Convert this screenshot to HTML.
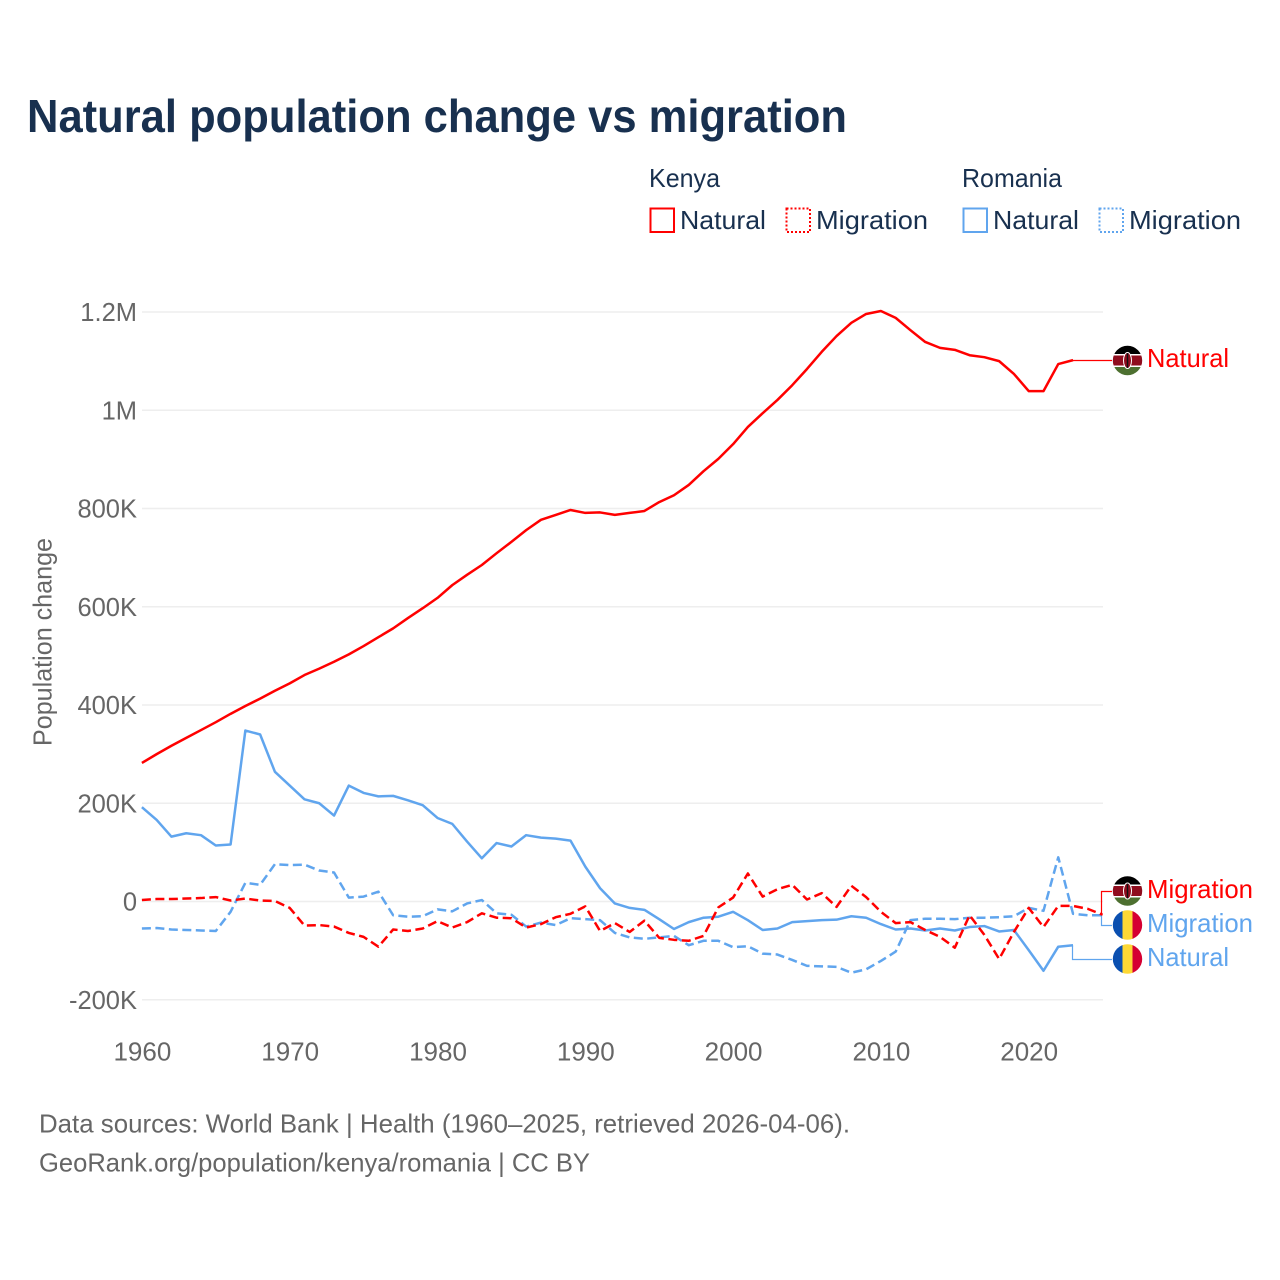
<!DOCTYPE html>
<html lang="en">
<head>
<meta charset="utf-8">
<title>Natural population change vs migration</title>
<style>
html,body{margin:0;padding:0;background:#fff;width:1280px;height:1280px;overflow:hidden}
svg{display:block}
text{font-family:"Liberation Sans",sans-serif}
</style>
</head>
<body>
<svg id="chart" xmlns="http://www.w3.org/2000/svg" width="1280" height="1280" viewBox="0 0 1280 1280">
<defs>
<clipPath id="flag-clip-kenya-natural"><circle cx="1127.5" cy="360.5" r="14.7"/></clipPath>
<clipPath id="flag-clip-kenya-migration"><circle cx="1127.5" cy="891" r="14.7"/></clipPath>
<clipPath id="flag-clip-romania-migration"><circle cx="1127.5" cy="925" r="14.7"/></clipPath>
<clipPath id="flag-clip-romania-natural"><circle cx="1127.5" cy="959" r="14.7"/></clipPath>
</defs>
<rect width="1280" height="1280" fill="#fff"/>
<text x="27" y="132" font-size="46" font-weight="700" fill="#18304f" textLength="820" lengthAdjust="spacingAndGlyphs">Natural population change vs migration</text>

<g font-size="26" fill="#18304f">
<text x="649" y="187" textLength="71" lengthAdjust="spacingAndGlyphs">Kenya</text>
<rect x="650.5" y="208.5" width="23.5" height="23.5" fill="none" stroke="#ff0000" stroke-width="2"/>
<text x="680" y="229" textLength="86" lengthAdjust="spacingAndGlyphs">Natural</text>
<rect x="786.5" y="208.5" width="23.5" height="23.5" fill="none" stroke="#ff0000" stroke-width="2" stroke-dasharray="2 2"/>
<text x="816" y="229" textLength="112" lengthAdjust="spacingAndGlyphs">Migration</text>
<text x="962" y="187" textLength="100" lengthAdjust="spacingAndGlyphs">Romania</text>
<rect x="963.5" y="208.5" width="23.5" height="23.5" fill="none" stroke="#60a5ee" stroke-width="2"/>
<text x="993" y="229" textLength="86" lengthAdjust="spacingAndGlyphs">Natural</text>
<rect x="1099.5" y="208.5" width="23.5" height="23.5" fill="none" stroke="#60a5ee" stroke-width="2" stroke-dasharray="2 2"/>
<text x="1129" y="229" textLength="112" lengthAdjust="spacingAndGlyphs">Migration</text>
</g>

<g id="grid"></g>
<g id="yticks" font-size="25.5" fill="#666" text-anchor="end"></g>
<g id="xticks" font-size="26" fill="#666" text-anchor="middle"></g>
<text transform="translate(51.5,642) rotate(-90)" font-size="26" fill="#666" text-anchor="middle" textLength="208" lengthAdjust="spacingAndGlyphs">Population change</text>

<g id="connectors"></g>
<g id="series"></g>

<g clip-path="url(#flag-clip-kenya-natural)">
<rect x="1112" y="345" width="31" height="31" fill="#fff"/><rect x="1112" y="345" width="31" height="9" fill="#000"/><rect x="1112" y="355.5" width="31" height="10" fill="#8f0d1e"/><rect x="1112" y="367" width="31" height="10" fill="#4d7030"/>
<ellipse cx="1127.5" cy="360.5" rx="4" ry="8" fill="#8f0d1e" stroke="#fff" stroke-width="1"/><rect x="1126.8" y="353" width="1.4" height="15" fill="#111"/>
</g>
<g clip-path="url(#flag-clip-kenya-migration)">
<rect x="1112" y="875.5" width="31" height="31" fill="#fff"/><rect x="1112" y="875.5" width="31" height="9" fill="#000"/><rect x="1112" y="886" width="31" height="10" fill="#8f0d1e"/><rect x="1112" y="897.5" width="31" height="10" fill="#4d7030"/>
<ellipse cx="1127.5" cy="891" rx="4" ry="8" fill="#8f0d1e" stroke="#fff" stroke-width="1"/><rect x="1126.8" y="883.5" width="1.4" height="15" fill="#111"/>
</g>
<g clip-path="url(#flag-clip-romania-migration)">
<rect x="1112" y="909" width="11" height="32" fill="#0a4fb0"/><rect x="1122.5" y="909" width="10.5" height="32" fill="#fdd835"/><rect x="1132.5" y="909" width="11" height="32" fill="#d50032"/>
</g>
<g clip-path="url(#flag-clip-romania-natural)">
<rect x="1112" y="943" width="11" height="32" fill="#0a4fb0"/><rect x="1122.5" y="943" width="10.5" height="32" fill="#fdd835"/><rect x="1132.5" y="943" width="11" height="32" fill="#d50032"/>
</g>

<text x="1147" y="367" font-size="26" fill="#ff0000" textLength="82" lengthAdjust="spacingAndGlyphs">Natural</text>
<text x="1147" y="898" font-size="26" fill="#ff0000" textLength="106" lengthAdjust="spacingAndGlyphs">Migration</text>
<text x="1147" y="932" font-size="26" fill="#60a5ee" textLength="106" lengthAdjust="spacingAndGlyphs">Migration</text>
<text x="1147" y="966" font-size="26" fill="#60a5ee" textLength="82" lengthAdjust="spacingAndGlyphs">Natural</text>

<text x="39" y="1132.5" font-size="26" fill="#666" textLength="811" lengthAdjust="spacingAndGlyphs">Data sources: World Bank | Health (1960–2025, retrieved 2026-04-06).</text>
<text x="39" y="1171.5" font-size="26" fill="#666" textLength="551" lengthAdjust="spacingAndGlyphs">GeoRank.org/population/kenya/romania | CC BY</text>
</svg>
<script>
const years = [1960,1961,1962,1963,1964,1965,1966,1967,1968,1969,1970,1971,1972,1973,1974,1975,1976,1977,1978,1979,1980,1981,1982,1983,1984,1985,1986,1987,1988,1989,1990,1991,1992,1993,1994,1995,1996,1997,1998,1999,2000,2001,2002,2003,2004,2005,2006,2007,2008,2009,2010,2011,2012,2013,2014,2015,2016,2017,2018,2019,2020,2021,2022,2023,2024,2025];
const kenyaNatural = [282,300,317,333,349,365,382,398,413,429,444,461,474,488,503,520,538,556,577,597,618,644,665,685,709,732,756,777,787,797,791,792,787,791,795,813,827,848,876,901,931,966,994,1021,1051,1084,1119,1151,1178,1196,1202,1188,1163,1139,1127,1123,1112,1108,1100,1074,1039,1039,1094,1102];
const romaniaNatural = [192,166,132,139,135,114,116,348,340,264,236,208,200,175,236,221,214,215,206,196,170,158,122,88,119,112,135,130,128,124,71,27,-4,-13,-17,-36,-56,-42,-33,-31,-21,-38,-58,-55,-42,-40,-38,-37,-30,-33,-46,-57,-55,-59,-55,-59,-52,-50,-61,-58,-99,-141,-92,-89];
const kenyaMigration = [3,5,5,6,7,9,2,6,2,1,-13,-49,-48,-51,-64,-72,-92,-57,-60,-55,-40,-53,-42,-24,-33,-34,-53,-46,-32,-25,-10,-60,-44,-62,-39,-74,-78,-80,-70,-12,8,57,10,25,34,4,17,-11,32,9,-21,-44,-42,-58,-72,-94,-28,-68,-117,-62,-13,-52,-9,-9,-15,-27];
const romaniaMigration = [-55,-54,-57,-58,-59,-60,-21,38,34,76,74,75,63,59,8,10,20,-28,-31,-30,-16,-20,-4,3,-24,-27,-51,-43,-48,-34,-36,-38,-64,-73,-76,-73,-70,-89,-80,-80,-93,-91,-106,-108,-119,-131,-132,-133,-145,-138,-121,-102,-38,-35,-35,-36,-33,-33,-32,-30,-13,-19,90,-25,-28,-28];
const yTickValues = [-200,0,200,400,600,800,1000,1200];
const yTickLabels = ["-200K","0","200K","400K","600K","800K","1M","1.2M"];
const xTickYears = [1960,1970,1980,1990,2000,2010,2020];

const NS = 'http://www.w3.org/2000/svg';
const RED = '#ff0000';
const BLUE = '#60a5ee';
function xScale(year) { return 141.9 + (year - 1960) * 14.78; }
function yScale(k) { return 901.5 - k * 0.49125; }
function make(tag, attrs) {
  const el = document.createElementNS(NS, tag);
  for (const key in attrs) el.setAttribute(key, attrs[key]);
  return el;
}

const gridGroup = document.getElementById('grid');
const yGroup = document.getElementById('yticks');
yTickValues.forEach(function (value, i) {
  const line = make('line', { x1: 142, x2: 1103, y1: yScale(value), y2: yScale(value), stroke: '#eeeeee', 'stroke-width': 1.5 });
  
  
  gridGroup.appendChild(line);
  const label = make('text', { x: 137, y: yScale(value) + 9 });
  
  
  label.textContent = yTickLabels[i];
  yGroup.appendChild(label);
});

const xGroup = document.getElementById('xticks');
xTickYears.forEach(function (year) {
  const label = make('text', { x: xScale(year) + 0.5, y: 1060.5 });
  
  
  label.textContent = String(year);
  xGroup.appendChild(label);
});

function linePath(values) {
  return values.map(function (v, i) {
    return (i ? 'L' : 'M') + xScale(years[i]).toFixed(2) + ',' + yScale(v).toFixed(2);
  }).join(' ');
}

const seriesGroup = document.getElementById('series');
function drawSeries(values, color, dashed, name) {
  const path = make('path', { d: linePath(values), fill: 'none', stroke: color, 'stroke-width': 2.5, 'stroke-linejoin': 'round' });
  if (dashed) path.setAttribute('stroke-dasharray', '9 4.5');
  
  
  seriesGroup.appendChild(path);
}
drawSeries(romaniaNatural, BLUE, false, 'line-romania-natural');
drawSeries(romaniaMigration, BLUE, true, 'line-romania-migration');
drawSeries(kenyaNatural, RED, false, 'line-kenya-natural');
drawSeries(kenyaMigration, RED, true, 'line-kenya-migration');

const connectorGroup = document.getElementById('connectors');
function drawConnector(values, color, labelY, name) {
  const last = values.length - 1;
  const x = Math.floor(xScale(years[last])) - 0.5;
  const y = yScale(values[last]);
  const path = make('path', { d: 'M' + x + ',' + y + ' V' + labelY + ' H1112', fill: 'none', stroke: color, 'stroke-width': 1.2 });
  
  
  connectorGroup.appendChild(path);
}
drawConnector(kenyaNatural, RED, 360.5, 'connector-kenya-natural');
drawConnector(kenyaMigration, RED, 891.5, 'connector-kenya-migration');
drawConnector(romaniaMigration, BLUE, 925.5, 'connector-romania-migration');
drawConnector(romaniaNatural, BLUE, 959.5, 'connector-romania-natural');
</script>
</body>
</html>
